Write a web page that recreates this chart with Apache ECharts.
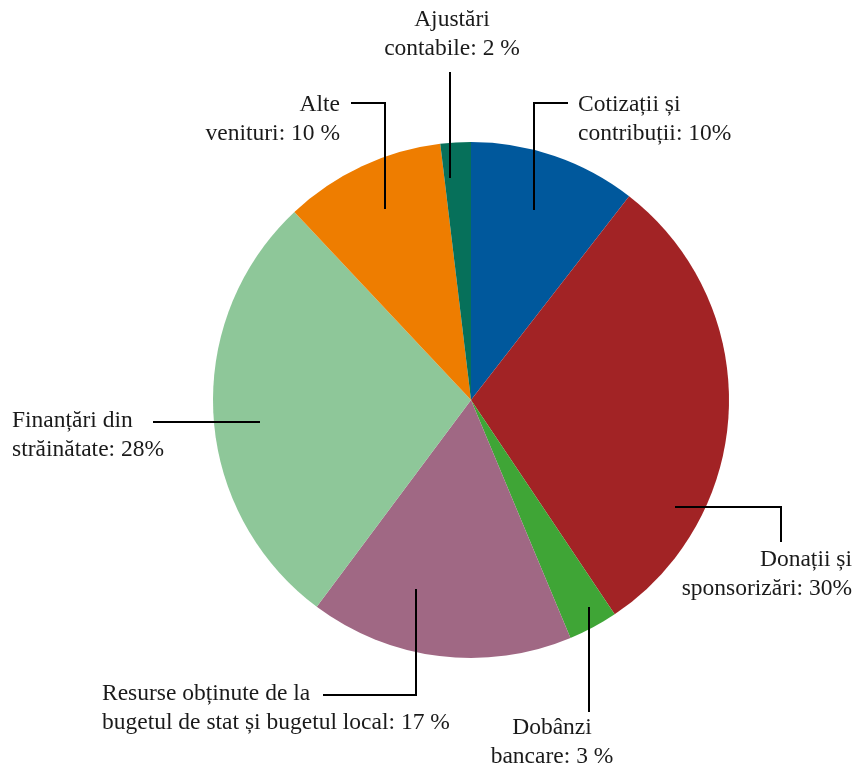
<!DOCTYPE html>
<html>
<head>
<meta charset="utf-8">
<script src="https://cdn.jsdelivr.net/npm/echarts@6/dist/echarts.min.js"></script>
<style>
  html, body { margin: 0; padding: 0; background: #fff; }
  #chart { width: 855px; height: 766px; }
</style>
</head>
<body>
<div id="chart"></div>
<script>
// categories (clockwise from 12 o'clock)
const categories = [
  'Cotizații și\ncontribuții',
  'Donații și\nsponsorizări',
  'Dobânzi\nbancare',
  'Resurse obținute de la\nbugetul de stat și bugetul local',
  'Finanțări din\nstrăinătate',
  'Alte\nvenituri',
  'Ajustări\ncontabile'
];
const values = [10.5, 30.1, 3.1, 16.5, 27.8, 10.1, 1.9];
// percent as printed in each label (spacing kept as in the source)
const valueLabels = ['10%', '30%', '3 %', '17 %', '28%', '10 %', '2 %'];
const colors = ['#00589c', '#a22325', '#3fa536', '#a06884', '#8ec799', '#ee7d00', '#06705a'];

// label placement: text anchor + leader line (anchor inside slice -> elbow -> end)
const labelPos = [
  { x: 578, y: 119, align: 'left',   line: [[534, 210], [534, 103], [568, 103]] },
  { x: 852, y: 574, align: 'right',  line: [[675, 507], [781, 507], [781, 542]] },
  { x: 552, y: 742, align: 'center', line: [[589, 607], [589, 712], [589, 712]] },
  { x: 102, y: 708, align: 'left',   line: [[416, 589], [416, 695], [323, 695]] },
  { x: 12,  y: 435, align: 'left',   line: [[260, 422], [153, 422], [153, 422]] },
  { x: 340, y: 119, align: 'right',  line: [[385, 209], [385, 103], [351, 103]] },
  { x: 452, y: 34,  align: 'center', line: [[450, 178], [450, 72], [450, 72]] }
];

const pieData = categories.map((c, i) => ({ name: c, value: values[i] }));

const chart = echarts.init(document.getElementById('chart'));
chart.setOption({
  animation: false,
  series: [
    {
      // the slices
      type: 'pie',
      z: 2,
      center: [471, 400],
      radius: [0, 258],
      startAngle: 90,
      clockwise: true,
      data: pieData.map((d, i) => ({ ...d, itemStyle: { color: colors[i] } })),
      itemStyle: { borderWidth: 0 },
      label: { show: false },
      labelLine: { show: false },
      emphasis: { disabled: true },
      silent: true
    },
    {
      // same pie, invisible, on top -> labels and leader lines drawn over the slices
      type: 'pie',
      z: 5,
      center: [471, 400],
      radius: [0, 258],
      startAngle: 90,
      clockwise: true,
      data: pieData,
      itemStyle: { color: 'rgba(0,0,0,0)', borderWidth: 0 },
      label: {
        show: true,
        formatter: p => p.name + ': ' + valueLabels[p.dataIndex],
        fontFamily: 'Liberation Serif',
        fontSize: 23.5,
        lineHeight: 29,
        color: '#1a1a1a',
        overflow: 'none'
      },
      labelLine: {
        show: true,
        lineStyle: { color: '#000', width: 2 }
      },
      labelLayout: p => {
        const l = labelPos[p.dataIndex];
        return {
          x: l.x,
          y: l.y,
          align: l.align,
          verticalAlign: 'middle',
          labelLinePoints: l.line
        };
      },
      emphasis: { disabled: true },
      silent: true
    }
  ]
});
</script>
</body>
</html>
